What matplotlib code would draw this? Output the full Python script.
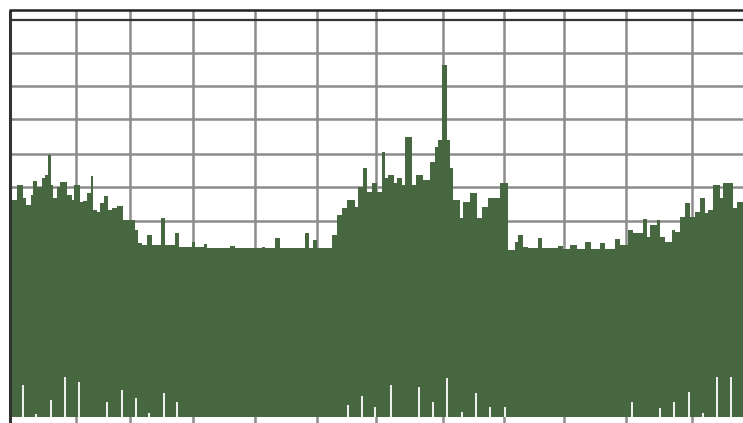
import matplotlib
matplotlib.use("Agg")
import matplotlib.pyplot as plt
import numpy as np

# ---- data (x in pixel-like units, level = height above bottom) ----
# upper envelope: step starts and level (pixel row of top edge)
env_x = [11, 17, 23, 26, 31, 33, 37, 42, 45, 48, 51, 53, 57, 60, 67, 72, 74, 80, 83, 87,
         91, 93, 97, 100, 104, 108, 112, 117, 123, 135, 138, 142, 147, 152, 161, 165, 175, 179,
         192, 195, 204, 207, 230, 235, 262, 265, 275, 280, 305, 309, 313, 317, 332, 337, 342,
         347, 355, 358, 363, 367, 372, 377, 382, 385, 388, 394, 397, 402, 405, 412, 416, 423,
         430, 435, 438, 442, 447, 450, 453, 460, 463, 470, 477, 482, 488, 500, 508, 515, 518,
         523, 528, 538, 542, 558, 563, 570, 577, 585, 591, 600, 605, 615, 620, 628, 633, 643,
         647, 650, 657, 660, 665, 672, 675, 680, 685, 690, 695, 700, 705, 708, 713, 720, 723,
         733, 737]
env_row = [200, 185, 198, 205, 195, 181, 187, 178, 175, 155, 185, 198, 187, 182, 195, 200, 185,
           202, 201, 193, 176, 210, 212, 203, 196, 210, 208, 206, 220, 230, 243, 245, 235, 245,
           218, 245, 233, 247, 242, 247, 244, 248, 246, 248, 247, 248, 238, 248, 233, 248, 240,
           248, 235, 215, 208, 200, 207, 187, 168, 192, 183, 192, 152, 178, 175, 183, 178, 185,
           137, 185, 175, 180, 162, 147, 140, 65, 140, 168, 200, 218, 202, 193, 218, 207, 198,
           183, 250, 242, 235, 247, 248, 238, 248, 246, 249, 245, 249, 242, 249, 243, 249, 239,
           245, 230, 233, 219, 237, 225, 220, 237, 242, 230, 232, 217, 203, 217, 212, 198, 213,
           210, 185, 198, 183, 208, 202]
env_end = 743

# lower envelope spikes (white gaps rising from the floor)
spike_x = [23, 36, 51, 65, 79, 107, 122, 136, 149, 164, 177, 348, 362, 375, 391, 419, 433,
           447, 462, 476, 490, 505, 632, 660, 674, 689, 703, 717, 731]
spike_row = [385, 414, 400, 377, 382, 402, 390, 398, 413, 393, 402, 405, 396, 407, 385, 387,
             402, 378, 412, 393, 407, 407, 402, 408, 402, 392, 413, 377, 377]

floor_row = 417
H = 423

grid_x = [76, 130, 193, 255, 317, 376, 443, 504, 564, 626, 692]
grid_row = [53, 86, 119, 154, 187, 221, 254, 288, 321, 355, 388]

# ---- plot ----
fig = plt.figure(figsize=(7.43, 4.23), dpi=100)
ax = fig.add_axes([0, 0, 1, 1])
ax.set_xlim(0, 743)
ax.set_ylim(0, H)
ax.axis("off")

grid_col = "#8c8c8c"
for gx in grid_x:
    ax.plot([gx, gx], [0, H - 10], color=grid_col, lw=1.8, zorder=1, solid_capstyle="butt")
for gr in grid_row:
    ax.plot([9, 743], [H - gr, H - gr], color=grid_col, lw=1.8, zorder=1, solid_capstyle="butt")

levels = [H - r for r in env_row]
edges = list(env_x) + [env_end]
ax.stairs(levels, edges, baseline=H - floor_row, fill=True, color="#476741", zorder=2)

ax.vlines(spike_x, H - floor_row, [H - r for r in spike_row], color="white", lw=1.3, zorder=3)

# frame: left, top and the dark double line under the top
ax.plot([9.5, 9.5], [0, H - 10], color="#333333", lw=2.2, zorder=4, solid_capstyle="butt")
ax.plot([9, 743], [H - 10, H - 10], color="#222222", lw=1.8, zorder=4, solid_capstyle="butt")
ax.plot([9, 743], [H - 20, H - 20], color="#333333", lw=1.6, zorder=4, solid_capstyle="butt")

fig.savefig("out.png", dpi=100)
